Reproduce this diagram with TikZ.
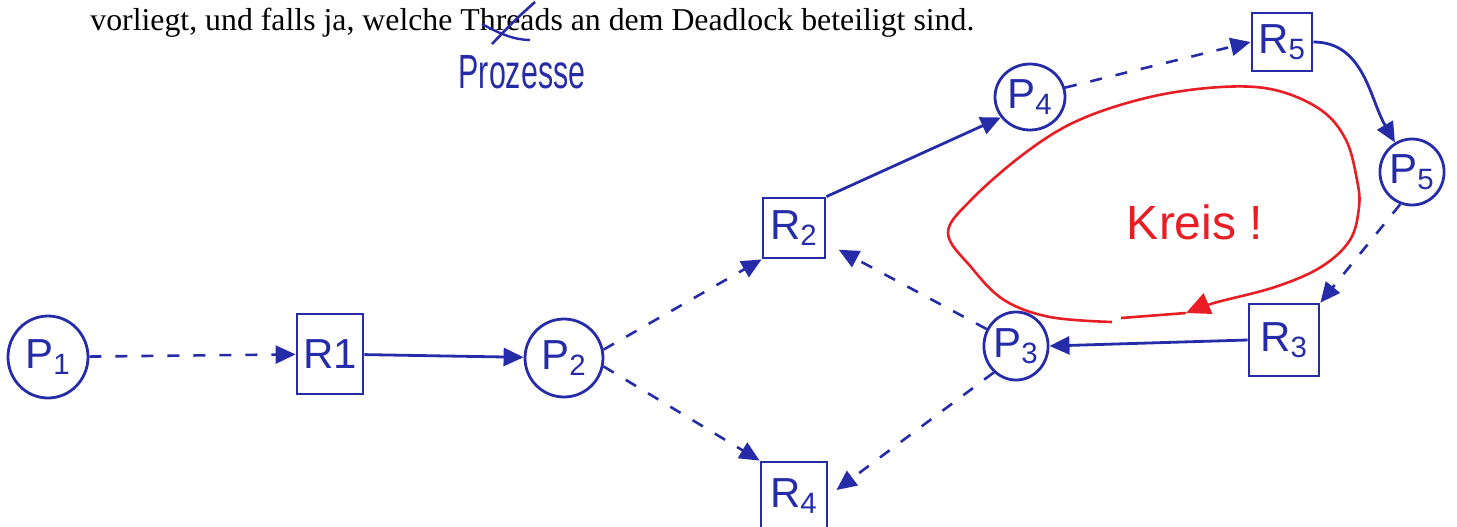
\documentclass[tikz,border=0pt]{standalone}
\usepackage{fontspec}
\setmainfont{Liberation Serif}
\newfontfamily\hand{Liberation Sans}
\usetikzlibrary{shapes.geometric,arrows.meta}
\definecolor{ink}{RGB}{38,44,168}
\definecolor{redink}{RGB}{232,30,36}
\begin{document}
\begin{tikzpicture}[x=0.5pt,y=-0.5pt,
  lbl/.style={text=ink,font=\hand\fontsize{21}{21}\selectfont},
  proc/.style={ellipse,draw=ink,line width=1.4pt,inner sep=0pt,lbl},
  res/.style={rectangle,draw=ink,line width=1.4pt,inner sep=0pt,lbl},
  tip/.style={-{Triangle[length=10pt,width=9pt]}},
  req/.style={draw=ink,line width=1.3pt,dash pattern=on 6pt off 7pt,tip},
  hold/.style={draw=ink,line width=1.4pt,tip},
  loop/.style={draw=redink,line width=1.3pt},
]
\useasboundingbox (0,0) rectangle (1457,526);

% printed text
\node[anchor=base west,inner sep=0pt,font=\fontsize{15.9}{18}\selectfont] (txt) at (90,30)
  {vorliegt, und falls ja, welche Threads an dem Deadlock beteiligt sind.};
\draw[ink,line width=1.3pt] (535,2) .. controls (515,20) .. (492,44);
\draw[ink,line width=1.2pt] (482,24) .. controls (500,34) and (515,40) .. (530,40);
\node[text=ink,font=\hand\fontsize{16}{16}\selectfont] (proz) at (522,72) {\scalebox{0.95}[1.5]{Prozesse}};

% nodes
\node[proc,minimum width=40pt,minimum height=41pt] (p1) at (48,357) {P\textsubscript{1}};
\node[res,minimum width=33pt,minimum height=40pt] (r1) at (330,354) {R1};
\node[proc,minimum width=39pt,minimum height=39pt] (p2) at (564,358) {P\textsubscript{2}};
\node[res,minimum width=31pt,minimum height=30pt] (r2) at (794,228) {R\textsubscript{2}};
\node[res,minimum width=33pt,minimum height=34pt] (r4) at (794,496) {R\textsubscript{4}};
\node[proc,minimum width=31pt,minimum height=34pt] (p3) at (1016,346) {P\textsubscript{3}};
\node[res,minimum width=35pt,minimum height=36pt] (r3) at (1284,340) {R\textsubscript{3}};
\node[proc,minimum width=35pt,minimum height=33pt] (p4) at (1030,97) {P\textsubscript{4}};
\node[res,minimum width=30pt,minimum height=29pt] (r5) at (1282,42) {R\textsubscript{5}};
\node[proc,minimum width=30pt,minimum height=33pt] (p5) at (1412,172) {P\textsubscript{5}};

% edges
\draw[req] (p1) -- (r1);
\draw[hold] (r1) -- (p2);
\draw[req] (p2.12) -- (r2.south west);
\draw[req] (p2.-12) -- (r4.north west);
\draw[hold] (r2.north east) -- (p4.215);
\draw[req] (p4.15) -- (r5.west);
\draw[hold] (r5.east) to[out=0,in=120] (p5.120);
\draw[req] (p5.250) -- (r3.north east);
\draw[hold] (r3.west) -- (p3.east);
\draw[req,shorten >=7pt] (p3.150) -- (r2.-25);
\draw[req,shorten >=5pt] (p3.230) -- (r4.east);

% red cycle
\draw[loop,-{Triangle[length=12pt,width=11pt]}] plot[smooth,tension=0.6] coordinates {(1112,322) (1050,317) (1004,300) (971,267) (948,233) (971,200) (1025,153) (1079,120) (1150,97) (1221,87) (1275,90) (1321,110) (1346,140) (1357,180) (1359,207) (1350,240) (1321,267) (1275,287) (1214,303) (1186,313)};
\draw[loop] (1186,313) -- (1121,318);
\node[text=redink,font=\hand\fontsize{24}{24}\selectfont] (kreis) at (1195,222) {Kreis !};
\end{tikzpicture}
\end{document}
